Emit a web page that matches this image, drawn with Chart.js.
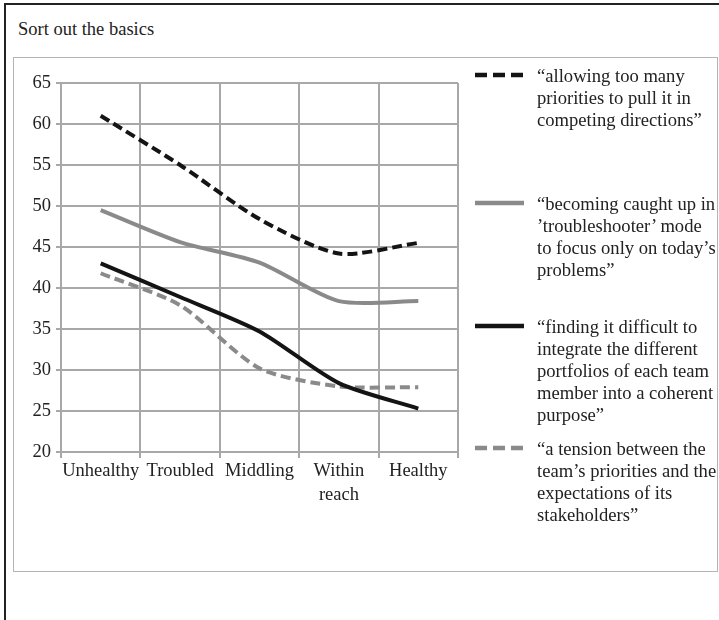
<!DOCTYPE html>
<html>
<head>
<meta charset="utf-8">
<script src="https://cdn.jsdelivr.net/npm/chart.js@4.4.1/dist/chart.umd.min.js"></script>
<style>
  body { margin: 0; width: 719px; height: 620px; overflow: hidden; background: #fff;
         font-family: "Liberation Serif", serif; color: #222; position: relative; }
  #frame { position: absolute; left: 4px; top: 3px; width: 740px; height: 700px; border: 2px solid #222; }
  #box { position: absolute; left: 13px; top: 57px; width: 703px; height: 513px; border: 1.5px solid #b4b4b4; }
  #title { position: absolute; left: 18px; top: 19px; font-size: 18.5px; white-space: nowrap; }
  #chart { position: absolute; left: 0; top: 0; }
  .item { position: absolute; left: 475px; font-size: 18.6px; line-height: 22px; }
  .item svg { position: absolute; left: 0; top: 7px; }
  .item .txt { position: absolute; left: 62px; top: 0; white-space: nowrap; }
</style>
</head>
<body>
<div id="frame"></div>
<div id="box"></div>
<div id="title">Sort out the basics</div>
<canvas id="chart" width="719" height="620"></canvas>
<div id="legend"></div>
<script>
// categories along the x axis
var categories = ['Unhealthy', 'Troubled', 'Middling', ['Within', 'reach'], 'Healthy'];

// series values
var priorities     = [61.0, 55.0, 48.4, 44.2, 45.5];
var troubleshooter = [49.5, 45.6, 43.1, 38.4, 38.4];
var integrate      = [43.0, 38.9, 34.7, 28.4, 25.3];
var tension        = [41.8, 37.9, 30.2, 28.0, 27.9];

// legend text, one line per entry
var prioritiesLabel     = ['\u201Callowing too many', 'priorities to pull it in', 'competing directions\u201D'];
var troubleshooterLabel = ['\u201Cbecoming caught up in', '\u2019troubleshooter\u2019 mode', 'to focus only on today\u2019s', 'problems\u201D'];
var integrateLabel      = ['\u201Cfinding it difficult to', 'integrate the different', 'portfolios of each team', 'member into a coherent', 'purpose\u201D'];
var tensionLabel        = ['\u201Ca tension between the', 'team\u2019s priorities and the', 'expectations of its', 'stakeholders\u201D'];

// y axis range
var yMin = 20, yMax = 65, yStep = 5;

var black = '#141414';
var grey = '#8a8a8a';
var gridGrey = '#a8a8a8';
var serif = '"Liberation Serif", serif';

var series = [
  { lines: prioritiesLabel, data: priorities, color: black, dash: [10, 5] },
  { lines: troubleshooterLabel, data: troubleshooter, color: grey, dash: [] },
  { lines: integrateLabel, data: integrate, color: black, dash: [] },
  { lines: tensionLabel, data: tension, color: grey, dash: [10, 5] }
];

var chart = new Chart(document.getElementById('chart'), {
  type: 'line',
  data: {
    labels: categories,
    datasets: series.map(function (s) {
      return {
        label: s.lines.join(' '),
        data: s.data,
        borderColor: s.color,
        borderWidth: 4,
        borderDash: s.dash,
        pointRadius: 0,
        tension: 0.25,
        fill: false
      };
    })
  },
  options: {
    responsive: false,
    animation: false,
    devicePixelRatio: 1,
    layout: { padding: { left: 0, top: 83, right: 261, bottom: 108 } },
    plugins: { legend: { display: false }, tooltip: { enabled: false } },
    scales: {
      x: {
        offset: true,
        afterFit: function (s) { s.height = 60; },
        grid: { offset: true, color: gridGrey, lineWidth: 2, tickLength: 6 },
        border: { color: gridGrey, width: 2 },
        ticks: { color: '#222', font: { family: serif, size: 18.5, lineHeight: 1.25 },
                 padding: 2, maxRotation: 0, autoSkip: false }
      },
      y: {
        min: yMin, max: yMax,
        afterFit: function (s) { s.width = 61; },
        grid: { color: gridGrey, lineWidth: 2, tickLength: 5 },
        border: { color: gridGrey, width: 2 },
        ticks: { stepSize: yStep, color: '#222', font: { family: serif, size: 18.5 }, padding: 5 }
      }
    }
  }
});

// legend on the right, built from the same series list
var legendTops = [65, 193, 316, 438];
var legend = document.getElementById('legend');
series.forEach(function (s, i) {
  var item = document.createElement('div');
  item.className = 'item';
  item.style.top = legendTops[i] + 'px';
  var dash = s.dash.length ? ' stroke-dasharray="12 6"' : '';
  item.innerHTML = '<svg width="49" height="6"><line x1="0" y1="3" x2="49" y2="3" stroke="' + s.color +
    '" stroke-width="4.5"' + dash + '/></svg><div class="txt">' + s.lines.join('<br>') + '</div>';
  legend.appendChild(item);
});
</script>
</body>
</html>
